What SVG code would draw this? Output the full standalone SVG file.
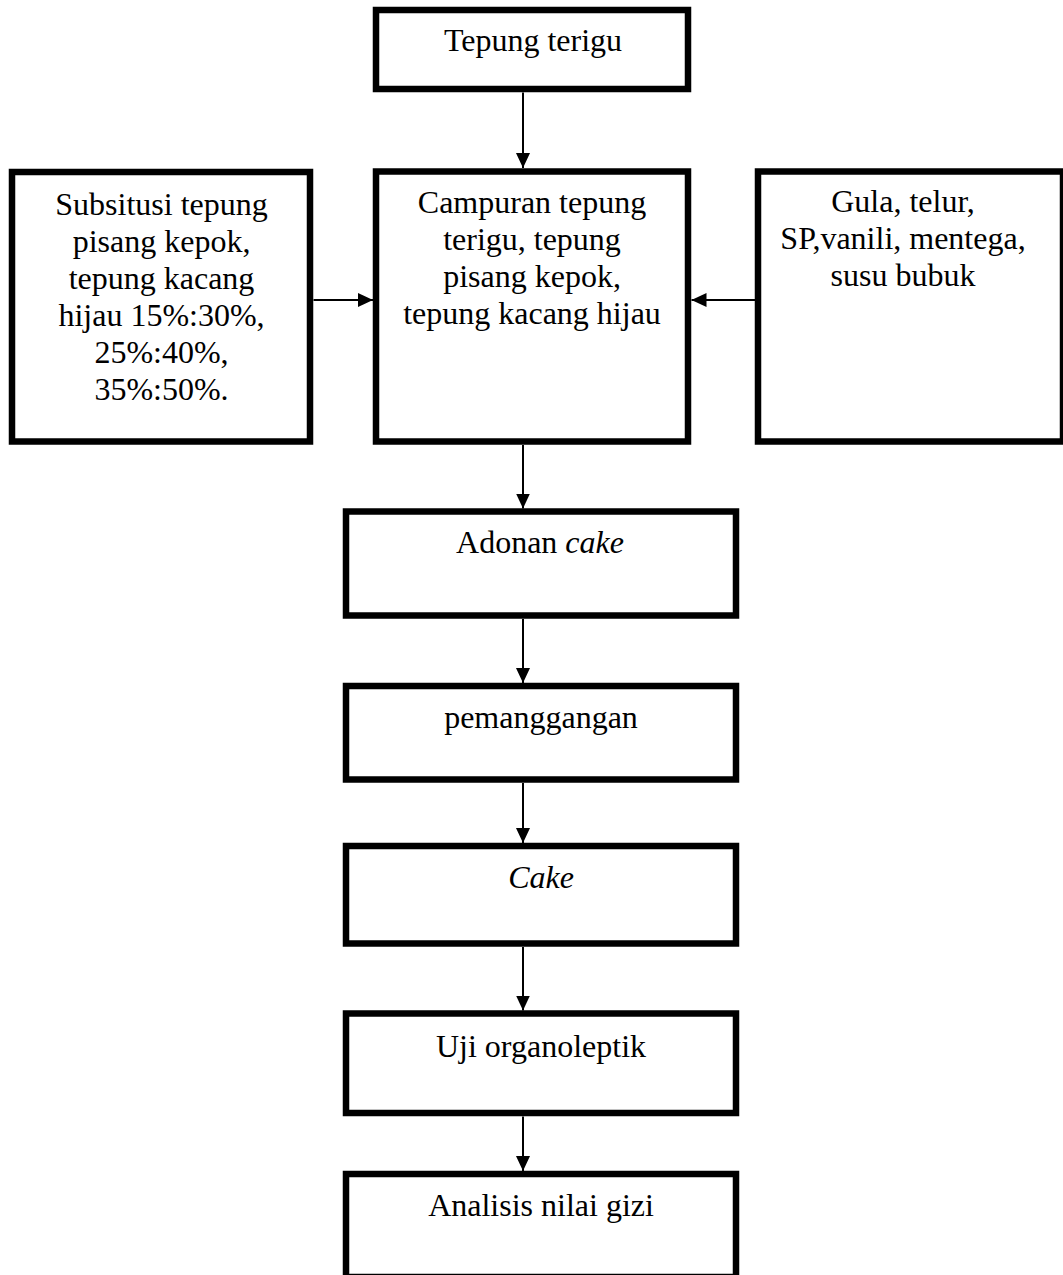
<svg xmlns="http://www.w3.org/2000/svg" width="1063" height="1275" viewBox="0 0 1063 1275">
  <style>
    .box { fill: #ffffff; stroke: #000000; stroke-width: 6.5; }
    .lbl { font-family: "Liberation Serif", "Times New Roman", serif; font-size: 32px; fill: #000000; text-anchor: middle; }
    .it { font-style: italic; }
    .conn { stroke: #000000; stroke-width: 2; fill: none; marker-end: url(#arrow); }
  </style>
  <defs>
    <marker id="arrow" viewBox="0 0 15 14" refX="15" refY="7" markerWidth="15" markerHeight="14" markerUnits="userSpaceOnUse" orient="auto">
      <path d="M0,0 L15,7 L0,14 z" fill="#000000"/>
    </marker>
  </defs>
  <rect x="0" y="0" width="1063" height="1275" fill="#ffffff"/>

  <g id="connectors">
    <line class="conn" x1="523" y1="92.5" x2="523" y2="168"/>
    <line class="conn" x1="313.5" y1="300" x2="373" y2="300"/>
    <line class="conn" x1="755" y1="300" x2="691.5" y2="300"/>
    <line class="conn" x1="523" y1="445" x2="523" y2="508.5"/>
    <line class="conn" x1="523" y1="619" x2="523" y2="683"/>
    <line class="conn" x1="523" y1="783" x2="523" y2="843"/>
    <line class="conn" x1="523" y1="947" x2="523" y2="1010.5"/>
    <line class="conn" x1="523" y1="1116.5" x2="523" y2="1171"/>
  </g>

  <g id="node-tepung-terigu">
    <rect class="box" x="376" y="10" width="312" height="79"/>
    <text class="lbl" x="533" y="51">Tepung terigu</text>
  </g>

  <g id="node-subsitusi">
    <rect class="box" x="12" y="172" width="298" height="269.5"/>
    <text class="lbl" x="161.5" y="215">Subsitusi tepung</text>
    <text class="lbl" x="161.5" y="252">pisang kepok,</text>
    <text class="lbl" x="161.5" y="289">tepung kacang</text>
    <text class="lbl" x="161.5" y="326">hijau 15%:30%,</text>
    <text class="lbl" x="161.5" y="363">25%:40%,</text>
    <text class="lbl" x="161.5" y="400">35%:50%.</text>
  </g>

  <g id="node-campuran">
    <rect class="box" x="376" y="171.5" width="312" height="270"/>
    <text class="lbl" x="532" y="213">Campuran tepung</text>
    <text class="lbl" x="532" y="250">terigu, tepung</text>
    <text class="lbl" x="532" y="287">pisang kepok,</text>
    <text class="lbl" x="532" y="324">tepung kacang hijau</text>
  </g>

  <g id="node-bahan">
    <rect class="box" x="758" y="171.5" width="305" height="270"/>
    <text class="lbl" x="903" y="212">Gula, telur,</text>
    <text class="lbl" x="903" y="249">SP,vanili, mentega,</text>
    <text class="lbl" x="903" y="286">susu bubuk</text>
  </g>

  <g id="node-adonan">
    <rect class="box" x="346" y="511.5" width="390" height="104"/>
    <text class="lbl" x="540" y="553">Adonan <tspan class="it">cake</tspan></text>
  </g>

  <g id="node-pemanggangan">
    <rect class="box" x="346" y="686" width="390" height="93.5"/>
    <text class="lbl" x="541" y="728">pemanggangan</text>
  </g>

  <g id="node-cake">
    <rect class="box" x="346" y="846" width="390" height="97.5"/>
    <text class="lbl it" x="541" y="888">Cake</text>
  </g>

  <g id="node-uji">
    <rect class="box" x="346" y="1013.5" width="390" height="99.5"/>
    <text class="lbl" x="541" y="1057">Uji organoleptik</text>
  </g>

  <g id="node-analisis">
    <rect class="box" x="346" y="1174" width="390" height="103"/>
    <text class="lbl" x="541" y="1216">Analisis nilai gizi</text>
  </g>
</svg>
